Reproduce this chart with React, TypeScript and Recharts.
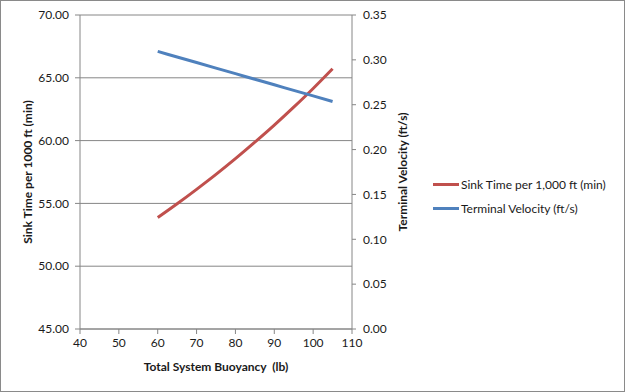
import { Line, LineChart, CartesianGrid, XAxis, YAxis } from "recharts"

const buoyancy = [60, 65, 70, 75, 80, 85, 90, 95, 100, 105]
const sinkTime = [53.87, 54.97, 56.12, 57.31, 58.56, 59.87, 61.23, 62.66, 64.15, 65.72]
const velocity = [0.3094, 0.3032, 0.297, 0.2908, 0.2846, 0.2784, 0.2722, 0.266, 0.2598, 0.2536]

const xTicks = [40, 50, 60, 70, 80, 90, 100, 110]
const leftTicks = [45, 50, 55, 60, 65, 70]
const rightTicks = [0, 0.05, 0.1, 0.15, 0.2, 0.25, 0.3, 0.35]

const RED = "#C0504D"
const BLUE = "#4F81BD"
const GRID = "#868686"
const FONT = "Lato, 'Open Sans', sans-serif"

const dataset = buoyancy.map((b, i) => ({
  b,
  sink: sinkTime[i],
  vel: velocity[i],
}))

const tickStyle = { fontSize: 12, fill: "#1a1a1a", fontFamily: FONT }
const labelStyle = {
  fontSize: 12,
  fontWeight: 700,
  fill: "#1a1a1a",
  fontFamily: FONT,
  textAnchor: "middle" as const,
}

const legendItems = [
  { name: "Sink Time per 1,000 ft (min)", color: RED },
  { name: "Terminal Velocity (ft/s)", color: BLUE },
]

function LegendBox() {
  return (
    <div
      style={{
        position: "absolute",
        left: 432,
        top: 171,
        fontFamily: FONT,
        fontSize: 12,
        color: "#1a1a1a",
      }}
    >
      {legendItems.map((it) => (
        <div
          key={it.name}
          style={{ display: "flex", alignItems: "center", height: 24 }}
        >
          <span
            style={{
              display: "inline-block",
              width: 26,
              height: 3,
              background: it.color,
              marginRight: 2,
            }}
          />
          {it.name}
        </div>
      ))}
    </div>
  )
}

export default function App() {
  return (
    <div
      style={{
        position: "absolute",
        left: 0,
        top: 0,
        width: 625,
        height: 392,
        border: "1px solid #8a8a8a",
        boxSizing: "border-box",
        background: "#fff",
      }}
    >
      <LineChart
        width={623}
        height={390}
        data={dataset}
        margin={{ top: 15, right: 209, bottom: 0, left: 0 }}
        style={{ position: "absolute", left: -1, top: -1 }}
      >
        <CartesianGrid vertical={false} stroke={GRID} yAxisId="left" />
        <XAxis
          dataKey="b"
          type="number"
          domain={[40, 110]}
          ticks={xTicks}
          height={61}
          stroke={GRID}
          tickSize={5}
          tickMargin={4}
          tick={tickStyle}
          label={{
            value: "Total System Buoyancy\u00a0 (lb)",
            position: "insideBottom",
            offset: 19,
            style: labelStyle,
          }}
        />
        <YAxis
          yAxisId="left"
          orientation="left"
          domain={[45, 70]}
          ticks={leftTicks}
          width={80}
          stroke={GRID}
          tickSize={5}
          tickMargin={6}
          tick={tickStyle}
          tickFormatter={(v: number) => v.toFixed(2)}
          label={{
            value: "Sink Time per 1000 ft (min)",
            angle: -90,
            position: "insideLeft",
            offset: 28,
            style: labelStyle,
          }}
        />
        <YAxis
          yAxisId="right"
          orientation="right"
          domain={[0, 0.35]}
          ticks={rightTicks}
          width={62}
          stroke={GRID}
          tickSize={4}
          tickMargin={7}
          tick={tickStyle}
          tickFormatter={(v: number) => v.toFixed(2)}
          label={{
            value: "Terminal Velocity (ft/s)",
            angle: -90,
            position: "insideLeft",
            offset: 51,
            style: labelStyle,
          }}
        />
        <Line
          yAxisId="left"
          dataKey="sink"
          name="Sink Time per 1,000 ft (min)"
          stroke={RED}
          strokeWidth={3}
          dot={false}
          type="monotone"
          isAnimationActive={false}
        />
        <Line
          yAxisId="right"
          dataKey="vel"
          name="Terminal Velocity (ft/s)"
          stroke={BLUE}
          strokeWidth={3}
          dot={false}
          type="monotone"
          isAnimationActive={false}
        />
      </LineChart>
      <LegendBox />
    </div>
  )
}
